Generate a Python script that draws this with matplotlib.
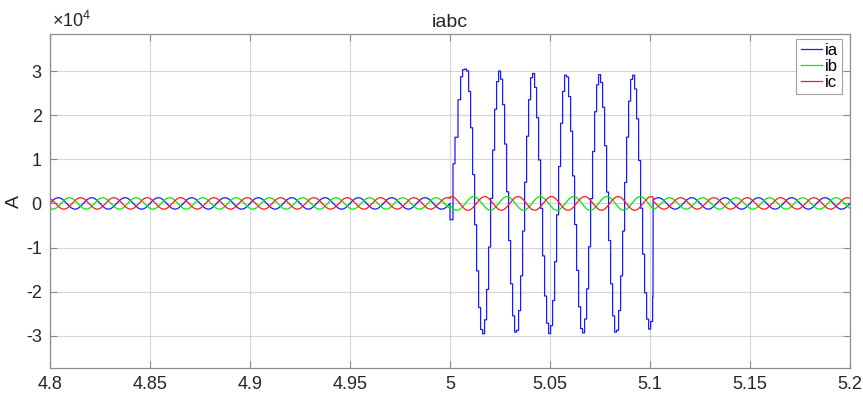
import numpy as np
import matplotlib.pyplot as plt

plt.rcParams['font.family'] = ['Liberation Sans', 'DejaVu Sans']
plt.rcParams['mathtext.default'] = 'regular'

# time window and system
t_start, t_end = 4.8, 5.2
f_sys = 60.0              # Hz, ~6 cycles between 5.0 and 5.1
i_load = 1300.0           # A, phase current amplitude outside the fault
i_load_fault = 1550.0     # A, ib / ic amplitude while the fault is on
fault_lag_deg = 45.0      # ib / ic extra lag while the fault is on
t_fault_on, t_fault_off = 5.0, 5.1015

# ia at fault inception: held steps (s, A)
onset_t = [5.0, 5.0015, 5.0025, 5.004, 5.0053, 5.0063]
onset_i = [-3700, 9000, 15000, 23500, 28700, 30300]

# ia fault half-cycle peaks (A), alternating + / -
t_first_peak = 5.0077
ia_peaks = [30800, 29700, 30000, 29500, 29600, 29500,
            29400, 29500, 29200, 29500, 29200, 28500]
ia_step = 0.001           # sample-and-hold step of the fault trace

x_ticks = [4.8, 4.85, 4.9, 4.95, 5.0, 5.05, 5.1, 5.15, 5.2]
x_ticklabels = ['4.8', '4.85', '4.9', '4.95', '5', '5.05', '5.1', '5.15', '5.2']
y_ticks = [-3e4, -2e4, -1e4, 0, 1e4, 2e4, 3e4]
y_ticklabels = ['-3', '-2', '-1', '0', '1', '2', '3']

# --- build the traces ---
w = 2 * np.pi * f_sys
t = np.arange(t_start, t_end + 1e-6, 1e-5)
in_fault = (t >= t_fault_on) & (t < t_fault_off)
amp = np.where(in_fault, i_load_fault, i_load)
lag = np.where(in_fault, np.deg2rad(fault_lag_deg), 0.0)

ia = i_load * np.sin(w * t)
ib = amp * np.sin(w * t - 2 * np.pi / 3 - lag)
ic = amp * np.sin(w * t + 2 * np.pi / 3 - lag)

# fault part of ia, sampled and held
ts = np.arange(onset_t[-1] + 0.001, t_fault_off - 1e-4, ia_step)
half = np.clip(np.round((ts - t_first_peak) / (0.5 / f_sys)).astype(int), 0, len(ia_peaks) - 1)
vals = np.array(ia_peaks)[half] * np.cos(w * (ts - t_first_peak))

ft = np.concatenate([onset_t, ts])
fv = np.concatenate([onset_i, vals])
edges = np.append(ft[1:], t_fault_off)
step_t = np.column_stack([ft, edges]).ravel()
step_v = np.column_stack([fv, fv]).ravel()

pre = t < t_fault_on
post = t >= t_fault_off
ia_t = np.concatenate([t[pre], step_t, t[post]])
ia_v = np.concatenate([ia[pre], step_v, ia[post]])

# --- plot ---
fig = plt.figure(figsize=(8.63, 3.94), dpi=100)
ax = fig.add_axes([50 / 863, 26 / 394, 800 / 863, 334 / 394])

ax.plot(ia_t, ia_v, color='#1a1aff', lw=0.9, label='ia')
ax.plot(t, ib, color='#00ee00', lw=0.9, label='ib')
ax.plot(t, ic, color='#ff1a1a', lw=0.9, label='ic')

ax.set_xlim(t_start, t_end)
ax.set_ylim(-3.73e4, 3.84e4)
ax.set_xticks(x_ticks)
ax.set_xticklabels(x_ticklabels)
ax.set_yticks(y_ticks)
ax.set_yticklabels(y_ticklabels)

ax.grid(True, color='#d4d4d4', lw=0.8)
ax.set_axisbelow(True)
for s in ax.spines.values():
    s.set_color('#8c8c8c')
    s.set_linewidth(0.9)
ax.tick_params(direction='in', length=5, width=0.8, color='#8c8c8c',
               labelsize=13, labelcolor='#262626', top=True, right=True, pad=6)

ax.set_title('iabc', fontsize=14, color='#262626', pad=5)
ax.set_ylabel('A', fontsize=14, color='#262626')
ax.yaxis.set_label_coords(-0.034, 0.5)
ax.text(0.002, 1.01, r'$\times10^{4}$', transform=ax.transAxes, fontsize=13,
        color='#262626', ha='left', va='bottom')

leg = ax.legend(loc='upper right', bbox_to_anchor=(0.99, 0.985), fontsize=12,
                fancybox=False, framealpha=1, edgecolor='#a0a0a0',
                handlelength=1.3, handletextpad=0.15, labelspacing=0.05,
                borderpad=0.25, borderaxespad=0)
leg.get_frame().set_linewidth(0.8)

fig.savefig('out.png', dpi=100)
